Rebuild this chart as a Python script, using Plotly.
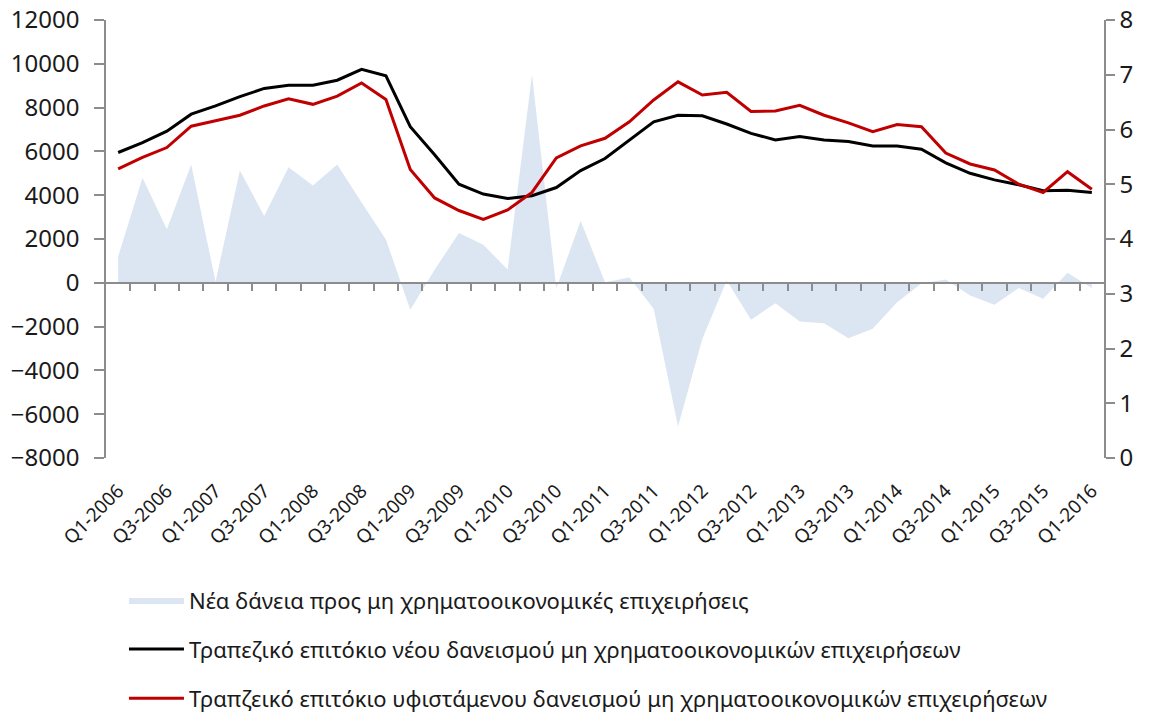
import plotly.graph_objects as go

quarters = []
for yr in range(2006, 2017):
    for q in range(1, 5):
        quarters.append(f"Q{q}-{yr}")
quarters = quarters[:41]  # Q1-2006 .. Q1-2016

new_loans = [1200, 4800, 2450, 5400, 50, 5130, 3050, 5280, 4440, 5400,
             3670, 1980, -1230, 600, 2270, 1735, 607, 9500, -250, 2830,
             20, 240, -1190, -6560, -2557, 100, -1690, -930, -1766, -1842,
             -2527, -2100, -883, -30, 150, -578, -1005, -240, -730, 457, -240]

rate_new = [5.58, 5.76, 5.97, 6.28, 6.43, 6.60, 6.75, 6.81, 6.81, 6.90,
            7.10, 6.98, 6.05, 5.54, 5.00, 4.82, 4.74, 4.79, 4.94, 5.25,
            5.47, 5.81, 6.14, 6.26, 6.25, 6.10, 5.93, 5.81, 5.87, 5.81,
            5.78, 5.70, 5.70, 5.64, 5.39, 5.20, 5.08, 4.99, 4.88, 4.89, 4.85]

rate_existing = [5.28, 5.49, 5.67, 6.06, 6.16, 6.26, 6.43, 6.56, 6.46, 6.61,
                 6.85, 6.55, 5.27, 4.75, 4.52, 4.36, 4.53, 4.85, 5.48, 5.70,
                 5.84, 6.14, 6.54, 6.87, 6.63, 6.68, 6.33, 6.34, 6.44, 6.26,
                 6.12, 5.96, 6.09, 6.05, 5.57, 5.37, 5.26, 5.00, 4.85, 5.23, 4.91]

names = ["Νέα δάνεια προς μη χρηματοοικονομικές επιχειρήσεις",
         "Τραπεζικό επιτόκιο νέου δανεισμού μη χρηματοοικονομικών επιχειρήσεων",
         "Τραπζεικό επιτόκιο υφιστάμενου δανεισμού μη χρηματοοικονομικών επιχειρήσεων"]

idx = list(range(len(quarters)))
label_idx = idx[::2]
label_txt = [quarters[i] for i in label_idx]

AXC = "#8c8c8c"
FONT = "Noto Sans, sans-serif"

fig = go.Figure()
fig.add_trace(go.Scatter(x=idx, y=new_loans, name=names[0], mode="lines",
                         fill="tozeroy", fillcolor="#dce6f2",
                         line=dict(width=0, color="#dce6f2"),
                         xaxis="x", yaxis="y", legendgroup="a"))
fig.add_trace(go.Scatter(x=idx, y=rate_new, name=names[1], mode="lines",
                         line=dict(color="#000000", width=3),
                         xaxis="x2", yaxis="y2", legendgroup="b"))
fig.add_trace(go.Scatter(x=idx, y=rate_existing, name=names[2], mode="lines",
                         line=dict(color="#c00000", width=3),
                         xaxis="x2", yaxis="y2", legendgroup="c"))

xr = [-0.5, len(quarters) - 0.5]
fig.update_layout(
    width=1151, height=715,
    margin=dict(l=106, r=47, t=20, b=257, autoexpand=False),
    paper_bgcolor="white", plot_bgcolor="white",
    font=dict(family=FONT, color="#1a1a1a"),
    showlegend=True,
    legend=dict(x=0.018, y=-0.2766, xanchor="left", yanchor="top",
                font=dict(family=FONT, size=22),
                tracegroupgap=17.5, itemwidth=55, bgcolor="rgba(0,0,0,0)"),
    xaxis=dict(range=xr, showline=False, ticks="", showgrid=False, zeroline=False,
               tickmode="array", tickvals=label_idx, ticktext=label_txt,
               tickangle=-45, tickfont=dict(size=19), ticklabelstandoff=17,
               automargin=False),
    xaxis2=dict(range=xr, overlaying="x", anchor="free", position=0.4,
                showline=True, linecolor=AXC, linewidth=1.5,
                ticks="outside", ticklen=7, tickcolor=AXC, tickwidth=1.5,
                tickmode="array", tickvals=[i + 0.5 for i in idx[:-1]],
                showticklabels=False, showgrid=False, zeroline=False),
    yaxis=dict(range=[-8000, 12000], tickmode="linear", tick0=-8000, dtick=2000,
               tickformat="d", automargin=False, ticklabelstandoff=10,
               ticklabeloverflow="allow",
               showline=True, linecolor=AXC, linewidth=1.5,
               ticks="outside", ticklen=10, tickcolor=AXC, tickwidth=1.5,
               showgrid=False, zeroline=False, tickfont=dict(size=24)),
    yaxis2=dict(range=[0, 8], tickmode="linear", tick0=0, dtick=1,
                overlaying="y", side="right", anchor="x2", automargin=False,
                ticklabeloverflow="allow",
                showline=True, linecolor=AXC, linewidth=1.5,
                ticks="outside", ticklen=9, tickcolor=AXC, tickwidth=1.5,
                showgrid=False, zeroline=False, tickfont=dict(size=24)),
)

fig.write_html("out.html",
               config={"displayModeBar": False},
               post_script="document.body.style.margin='0';document.body.style.overflow='hidden';")
